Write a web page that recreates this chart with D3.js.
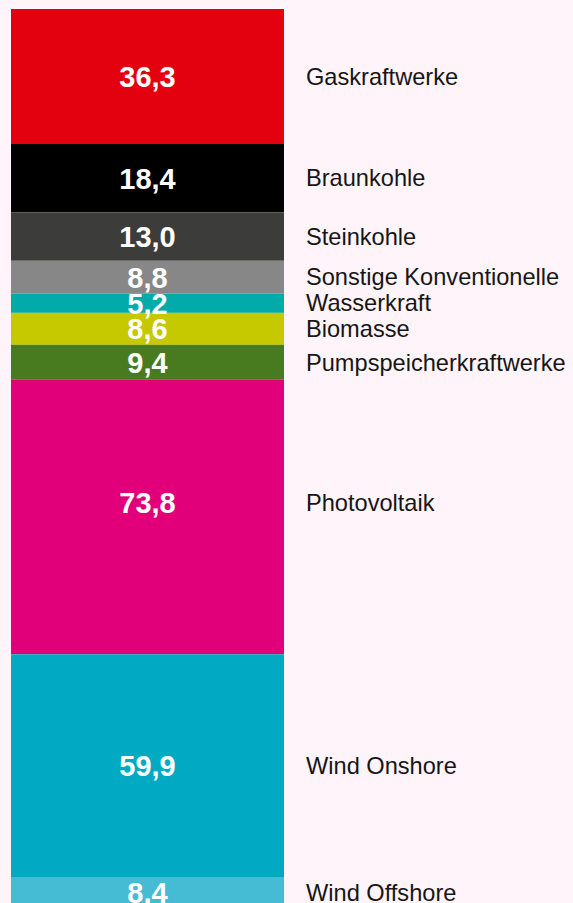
<!DOCTYPE html>
<html>
<head>
<meta charset="utf-8">
<script src="https://cdn.jsdelivr.net/npm/d3@7"></script>
<style>
  html, body { margin: 0; padding: 0; background: #fef4f9; overflow: hidden; }
  svg { display: block; }
</style>
</head>
<body>
<script>
const sources = ["Gaskraftwerke", "Braunkohle", "Steinkohle", "Sonstige Konventionelle",
    "Wasserkraft", "Biomasse", "Pumpspeicherkraftwerke", "Photovoltaik",
    "Wind Onshore", "Wind Offshore"];
const values = [36.3, 18.4, 13.0, 8.8, 5.2, 8.6, 9.4, 73.8, 59.9, 8.4];
const colors = ["#e3000f", "#000000", "#3c3c3b", "#878787", "#00aba9",
    "#c6c800", "#487b1f", "#e2007a", "#02a9c3", "#45bbd4"];

function main() {
    const width = 573, height = 903;

    let svg = d3.select("body").append("svg")
        .attr("width", width)
        .attr("height", height);

    // stacked from the top down
    let rows = [];
    let acc = 0;
    sources.forEach((s, i) => {
        rows.push({ name: s, value: values[i], color: colors[i], y0: acc, y1: acc + values[i] });
        acc += values[i];
    });

    let yScale = d3.scaleLinear().domain([0, acc]).range([9, 9 + acc * 3.719]);
    let xScale = d3.scaleBand().domain(["bar"]).range([11, 284]);

    let de = d3.formatLocale({ decimal: ",", thousands: ".", grouping: [3], currency: ["", " €"] });
    let fmt = de.format(".1f");

    // the photovoltaik labels sit a bit above the middle in the original
    let mid = d => (yScale(d.y0) + yScale(d.y1)) / 2 - (d.name === "Photovoltaik" ? 14 : 0);

    svg.selectAll("rect.seg")
        .data(rows)
        .enter()
        .append("rect")
        .attr("class", "seg")
        .attr("x", xScale("bar"))
        .attr("width", xScale.bandwidth())
        .attr("y", d => yScale(d.y0))
        .attr("height", d => yScale(d.y1) - yScale(d.y0))
        .attr("fill", d => d.color);

    svg.selectAll("text.val")
        .data(rows)
        .enter()
        .append("text")
        .attr("class", "val")
        .attr("x", xScale("bar") + xScale.bandwidth() / 2)
        .attr("y", mid)
        .attr("dy", "0.36em")
        .attr("text-anchor", "middle")
        .style("font-family", "'Liberation Sans', Arial, sans-serif")
        .style("font-weight", "bold")
        .style("font-size", "29px")
        .style("fill", "#fff")
        .text(d => fmt(d.value));

    svg.selectAll("text.lab")
        .data(rows)
        .enter()
        .append("text")
        .attr("class", "lab")
        .attr("x", 306)
        .attr("y", mid)
        .attr("dy", "0.35em")
        .style("font-family", "'Liberation Sans', Arial, sans-serif")
        .style("font-size", "23.6px")
        .style("fill", "#161616")
        .text(d => d.name);
}

main()
</script>
</body>
</html>
